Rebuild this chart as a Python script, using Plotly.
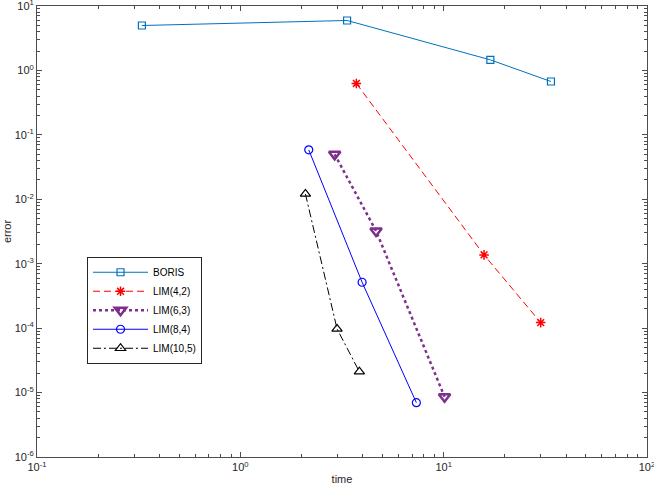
import plotly.graph_objects as go

boris_t = [0.328, 3.35, 16.97, 33.7]
boris_e = [4.98, 5.96, 1.46, 0.673]
lim42_t = [3.72, 15.8, 30.0]
lim42_e = [0.627, 1.37e-3, 1.22e-4]
lim63_t = [2.91, 4.65, 10.1]
lim63_e = [0.0498, 3.23e-3, 8.63e-6]
lim84_t = [2.17, 3.97, 7.34]
lim84_e = [0.0585, 5.16e-4, 6.97e-6]
lim105_t = [2.09, 2.99, 3.85]
lim105_e = [0.0121, 9.73e-5, 2.11e-5]

x_tickvals = [0.1, 1, 10, 100]
x_ticktext = ["10<sup>-1</sup>", "10<sup>0</sup>", "10<sup>1</sup>", "10<sup>2</sup>"]
y_tickvals = [1e-6, 1e-5, 1e-4, 1e-3, 1e-2, 1e-1, 1, 10]
y_ticktext = ["10<sup>-6</sup>", "10<sup>-5</sup>", "10<sup>-4</sup>", "10<sup>-3</sup>",
              "10<sup>-2</sup>", "10<sup>-1</sup>", "10<sup>0</sup>", "10<sup>1</sup>"]

x_minor = [m * 10.0 ** p for p in range(-1, 2) for m in range(2, 10)]
y_minor = [m * 10.0 ** p for p in range(-6, 1) for m in range(2, 10)]

fig = go.Figure()
fig.add_trace(go.Scatter(x=boris_t, y=boris_e, name="BORIS", mode="lines+markers",
                         line=dict(color="#0072BD", width=1),
                         marker=dict(symbol="square-open", size=7, color="#0072BD", line=dict(width=1.2))))
fig.add_trace(go.Scatter(x=lim42_t, y=lim42_e, name="LIM(4,2)", mode="lines+markers",
                         line=dict(color="#FF0000", width=1, dash="7px,4px"),
                         marker=dict(symbol="asterisk-open", size=8, color="#FF0000", line=dict(width=1.5, color="#FF0000"))))
fig.add_trace(go.Scatter(x=lim63_t, y=lim63_e, name="LIM(6,3)", mode="lines+markers",
                         line=dict(color="#7E2F8E", width=2.5, dash="dot"),
                         marker=dict(symbol="triangle-down-open", size=10, color="#7E2F8E", line=dict(width=2.5))))
fig.add_trace(go.Scatter(x=lim84_t, y=lim84_e, name="LIM(8,4)", mode="lines+markers",
                         line=dict(color="#0000FF", width=1),
                         marker=dict(symbol="circle-open", size=8, color="#0000FF", line=dict(width=1.2))))
fig.add_trace(go.Scatter(x=lim105_t, y=lim105_e, name="LIM(10,5)", mode="lines+markers",
                         line=dict(color="#000000", width=1, dash="8px,3px,2px,3px"),
                         marker=dict(symbol="triangle-up-open", size=9, color="#000000", line=dict(width=1.2))))

axis_common = dict(
    showgrid=False, zeroline=False, showline=True, linecolor="#4d4d4d", linewidth=1,
    ticks="inside", ticklen=5, tickcolor="#4d4d4d", mirror="allticks",
    tickfont=dict(size=11, color="#262626"), ticklabeloverflow="allow", automargin=False,
)

fig.update_xaxes(type="log", range=[-1, 2], tickmode="array", tickvals=x_tickvals, ticktext=x_ticktext,
                 minor=dict(tickmode="array", tickvals=x_minor, ticks="inside", ticklen=3, tickcolor="#4d4d4d"),
                 title=dict(text="time", font=dict(size=11, color="#262626"), standoff=3),
                 **axis_common)
fig.update_yaxes(type="log", range=[-6, 1], tickmode="array", tickvals=y_tickvals, ticktext=y_ticktext,
                 minor=dict(tickmode="array", tickvals=y_minor, ticks="inside", ticklen=3, tickcolor="#4d4d4d"),
                 title=dict(text="error", font=dict(size=11, color="#262626"), standoff=0),
                 **axis_common)

fig.update_layout(
    width=654, height=491,
    margin=dict(l=37, r=7, t=6, b=34),
    paper_bgcolor="white", plot_bgcolor="white",
    font=dict(family="Liberation Sans, Arial, sans-serif", size=10, color="#262626"),
    legend=dict(x=0.082, y=0.444, xanchor="left", yanchor="top",
                bgcolor="white", bordercolor="#262626", borderwidth=1,
                font=dict(size=10, color="#000000"), tracegroupgap=0, itemwidth=55),
    showlegend=True,
)

fig.write_html("out.html", config={"displayModeBar": False},
               post_script="document.body.style.margin='0';document.body.style.padding='0';")
